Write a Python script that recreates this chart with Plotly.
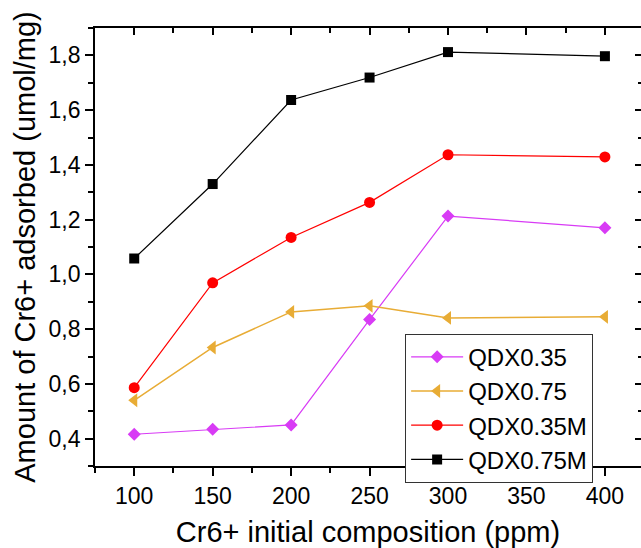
import plotly.graph_objects as go

# Initial Cr6+ concentration (ppm)
conc = [100, 150, 200, 250, 300, 400]

# Amount adsorbed (umol/mg) for each sorbent
qdx035 = [0.416, 0.434, 0.450, 0.835, 1.213, 1.170]
qdx075 = [0.540, 0.733, 0.863, 0.885, 0.841, 0.845]
qdx035m = [0.586, 0.969, 1.135, 1.263, 1.437, 1.429]
qdx075m = [1.058, 1.330, 1.637, 1.719, 1.812, 1.797]

series = [
    ("QDX0.35", qdx035, "#D83BF5", "diamond", 10, 1.2),
    ("QDX0.75", qdx075, "#E8AC35", "triangle-left", 12, 1.5),
    ("QDX0.35M", qdx035m, "#FF0000", "circle", 11, 1.2),
    ("QDX0.75M", qdx075m, "#000000", "square", 10, 1.2),
]

FONT = "Liberation Sans, Arial, sans-serif"

fig = go.Figure()
for name, vals, color, sym, size, lw in series:
    fig.add_trace(go.Scatter(
        x=conc, y=vals, name=name, mode="lines+markers",
        line=dict(color=color, width=lw),
        marker=dict(symbol=sym, size=size, color=color, line=dict(width=0)),
    ))

# empty trace so the top/right tick axes are drawn
fig.add_trace(go.Scatter(x=[None], y=[None], xaxis="x2", yaxis="y2",
                         showlegend=False, hoverinfo="skip"))

x_range = [75, 423]
y_range = [0.3, 1.9]

fig.update_layout(
    width=641, height=548, autosize=False,
    margin=dict(l=95, r=0, t=28, b=82, pad=0),
    paper_bgcolor="white", plot_bgcolor="white",
    separators=", ",
    font=dict(family=FONT, color="black", size=23),
    showlegend=True,
    legend=dict(
        x=0.568, y=0.302, xanchor="left", yanchor="top",
        bordercolor="#333333", borderwidth=1, bgcolor="white",
        font=dict(family=FONT, size=24, color="black"),
        tracegroupgap=0, itemsizing="trace", itemwidth=52,
    ),
    xaxis=dict(
        range=x_range, tickmode="array",
        tickvals=[100, 150, 200, 250, 300, 350, 400],
        ticktext=["100", "150", "200", "250", "300", "350", "400"],
        ticks="outside", ticklen=8, tickwidth=1.6, tickcolor="black",
        minor=dict(dtick=25, tick0=75, ticks="outside", ticklen=5,
                   tickwidth=1.6, tickcolor="black"),
        showline=True, linecolor="black", linewidth=1.8,
        showgrid=False, zeroline=False,
        tickfont=dict(size=23),
        title=dict(text="Cr6+ initial composition (ppm)",
                   font=dict(size=29), standoff=14),
    ),
    yaxis=dict(
        range=y_range, tickmode="array",
        tickvals=[0.4, 0.6, 0.8, 1.0, 1.2, 1.4, 1.6, 1.8],
        tickformat=".1f",
        ticks="outside", ticklen=8, tickwidth=1.6, tickcolor="black",
        minor=dict(dtick=0.1, tick0=0.3, ticks="outside", ticklen=5,
                   tickwidth=1.6, tickcolor="black"),
        showline=True, linecolor="black", linewidth=1.8,
        showgrid=False, zeroline=False,
        tickfont=dict(size=23),
        title=dict(text="Amount of Cr6+ adsorbed (umol/mg)",
                   font=dict(size=29), standoff=4),
    ),
    xaxis2=dict(
        overlaying="x", side="top", range=x_range, matches="x",
        tickmode="array", tickvals=[100, 150, 200, 250, 300, 350, 400],
        showticklabels=False,
        ticks="inside", ticklen=7, tickwidth=1.6, tickcolor="black",
        minor=dict(dtick=25, tick0=75, ticks="inside", ticklen=5,
                   tickwidth=1.6, tickcolor="black"),
        showline=True, linecolor="black", linewidth=1.8,
        showgrid=False, zeroline=False,
    ),
    yaxis2=dict(
        overlaying="y", side="right", range=y_range, matches="y",
        tickmode="array", tickvals=[0.4, 0.6, 0.8, 1.0, 1.2, 1.4, 1.6, 1.8],
        showticklabels=False,
        ticks="inside", ticklen=6, tickwidth=1.6, tickcolor="black",
        minor=dict(dtick=0.1, tick0=0.3, ticks="inside", ticklen=3,
                   tickwidth=1.6, tickcolor="black"),
        showline=False, showgrid=False, zeroline=False,
    ),
)

fig.write_html("out.html")
